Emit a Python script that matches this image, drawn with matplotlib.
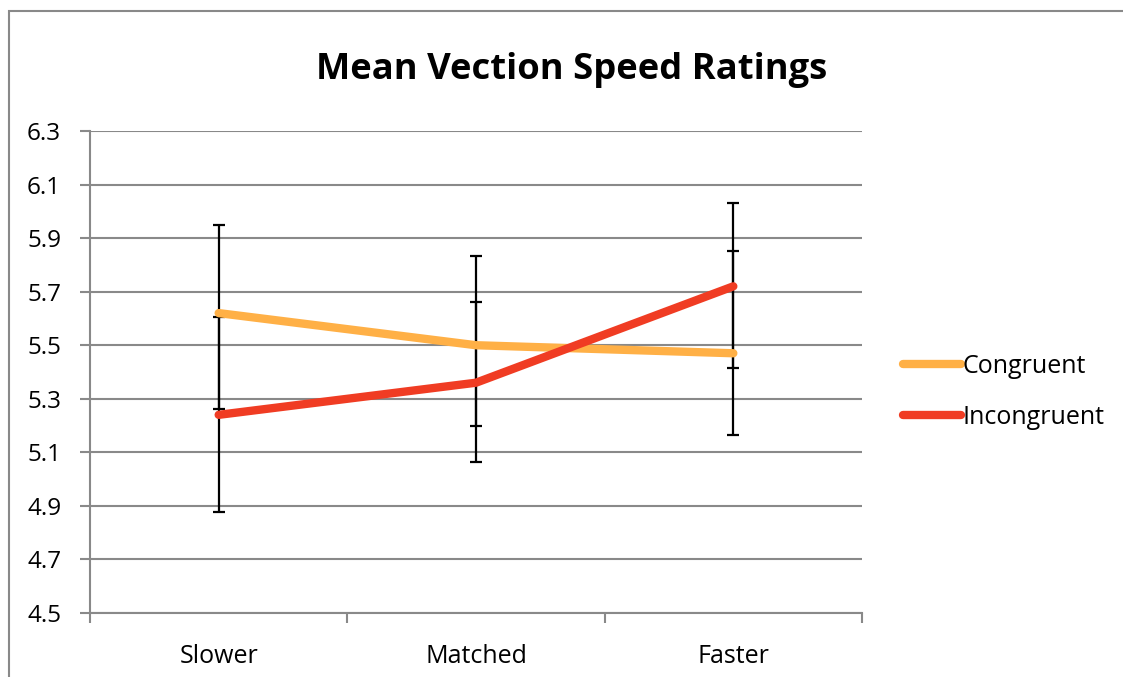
import matplotlib
matplotlib.use("Agg")
import matplotlib.pyplot as plt
import numpy as np
from matplotlib.patches import Rectangle

conditions = ["Slower", "Matched", "Faster"]
congruent = [5.62, 5.50, 5.47]
congruent_low = [5.26, 5.20, 5.165]
congruent_high = [5.95, 5.833, 5.852]
incongruent = [5.24, 5.36, 5.72]
incongruent_low = [4.878, 5.065, 5.414]
incongruent_high = [5.606, 5.66, 6.032]
y_ticks = [4.5, 4.7, 4.9, 5.1, 5.3, 5.5, 5.7, 5.9, 6.1, 6.3]

plt.rcParams['font.family'] = ['Open Sans', 'DejaVu Sans']
grey = '#898989'

fig = plt.figure(figsize=(11.23, 6.77), dpi=100)
ax = fig.add_axes([90 / 1123, 1 - 613 / 677, 772 / 1123, 482 / 677])

# chart border (runs off the right and bottom edges)
fig.patches.append(Rectangle((9 / 1123, -0.05), 1.2, 1 - 11 / 677 + 0.05,
                             transform=fig.transFigure, fill=False,
                             edgecolor=grey, linewidth=1.5))

x = np.arange(len(conditions))
for mean, low, high in [(congruent, congruent_low, congruent_high),
                        (incongruent, incongruent_low, incongruent_high)]:
    mean = np.array(mean)
    yerr = [mean - np.array(low), np.array(high) - mean]
    ax.errorbar(x, mean, yerr=yerr, fmt='none', ecolor='black',
                elinewidth=1.6, capsize=4.5, capthick=1.6, zorder=3)

ax.plot(x, congruent, color='#FFB046', linewidth=6, solid_capstyle='round',
        label='Congruent', zorder=4)
ax.plot(x, incongruent, color='#F03C23', linewidth=6, solid_capstyle='round',
        label='Incongruent', zorder=5)

ax.set_xlim(-0.5, len(conditions) - 0.5)
ax.set_ylim(4.5, 6.3)
ax.set_yticks(y_ticks)
ax.set_yticklabels([f"{v:.1f}" for v in y_ticks], fontsize=17.5)
ax.yaxis.grid(True, color=grey, linewidth=1.5)
ax.set_axisbelow(True)

ax.set_xticks([-0.5, 0.5, 1.5, 2.5])
ax.set_xticklabels([])
ax.set_xticks(list(x), minor=True)
ax.set_xticklabels(conditions, minor=True, fontsize=18)
ax.tick_params(axis='x', which='minor', length=0, pad=22)
ax.tick_params(axis='x', which='major', length=7, width=1.5, color=grey)
ax.tick_params(axis='y', length=7.2, width=1.5, color=grey, pad=13.5)

for side in ['top', 'right']:
    ax.spines[side].set_visible(False)
for side in ['left', 'bottom']:
    ax.spines[side].set_color(grey)
    ax.spines[side].set_linewidth(1.5)

fig.text(572 / 1123, 1 - 70 / 677, "Mean Vection Speed Ratings",
         fontsize=26.2, fontweight='bold', ha='center', va='center')

ax.legend(loc='center left', bbox_to_anchor=(1.0245, 0.459), frameon=False,
          fontsize=18, handlelength=2.3, handletextpad=0.05, labelspacing=1.05)

fig.savefig("out.png", dpi=100)
